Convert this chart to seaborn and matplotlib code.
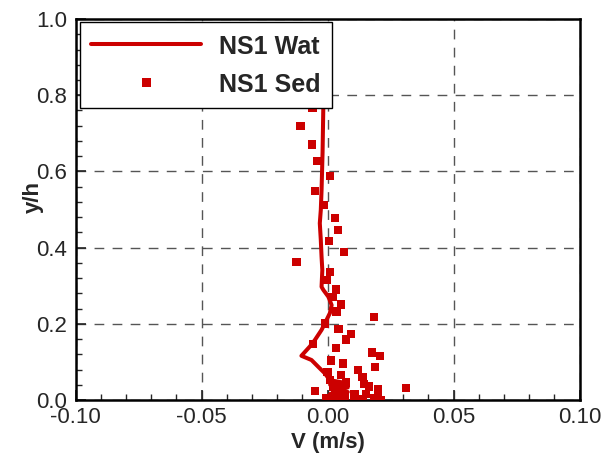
import matplotlib
matplotlib.use("Agg")
import matplotlib.pyplot as plt
import seaborn as sns
import pandas as pd
from matplotlib.ticker import MultipleLocator

# NS1 Wat (line): velocity V (m/s) vs y/h
wat_v = [0.0000, 0.0060, 0.0000, 0.0070, 0.0010, 0.0080, 0.0020, 0.0080, 0.0010, 0.0060,
         0.0009, -0.0011, -0.0037, -0.0064, -0.0104, -0.0071, -0.0051, -0.0024, -0.0011,
         0.0009, 0.0016, 0.0003, -0.0017, -0.0024, -0.0021, -0.0024, -0.0027, -0.0031,
         -0.0027, -0.0024, -0.0020, -0.0017, -0.0015]
wat_y = [0.000, 0.003, 0.006, 0.011, 0.016, 0.021, 0.026, 0.033, 0.040, 0.046,
         0.052, 0.070, 0.087, 0.105, 0.116, 0.140, 0.157, 0.184, 0.201,
         0.228, 0.249, 0.271, 0.289, 0.297, 0.341, 0.376, 0.420, 0.464,
         0.499, 0.551, 0.650, 0.770, 0.820]

# NS1 Sed (points)
sed_v = [-0.0060, -0.0107, -0.0063, -0.0043, 0.0009, -0.0051, -0.0015, 0.0029, 0.0041,
         0.0005, 0.0065, -0.0123, 0.0009, -0.0005, 0.0033, 0.0019, 0.0053, 0.0035,
         0.0185, -0.0011, 0.0043, 0.0093, 0.0073, -0.0059, 0.0033, 0.0177, 0.0209,
         0.0013, 0.0061, 0.0189, -0.0001, 0.0121, 0.0053, 0.0139, 0.0072, 0.0145,
         0.0165, 0.0312, -0.0051, 0.0201, 0.0107, 0.0153, 0.0200, 0.0107, 0.0141,
         0.0185, 0.0213, 0.0009, 0.0023, 0.0056, 0.0029, 0.0069, -0.0004]
sed_y = [0.766, 0.719, 0.671, 0.627, 0.588, 0.549, 0.512, 0.477, 0.446,
         0.417, 0.388, 0.362, 0.336, 0.315, 0.290, 0.270, 0.251, 0.232,
         0.217, 0.201, 0.186, 0.173, 0.159, 0.147, 0.136, 0.125, 0.115,
         0.104, 0.096, 0.086, 0.073, 0.078, 0.066, 0.060, 0.046, 0.042,
         0.035, 0.031, 0.023, 0.028, 0.016, 0.016, 0.016, 0.002, 0.002,
         0.004, 0.000, 0.052, 0.035, 0.026, 0.013, 0.009, 0.004]

x_ticks = [-0.10, -0.05, 0.00, 0.05, 0.10]
x_ticklabels = ["-0.10", "-0.05", "0.00", "0.05", "0.10"]
y_ticks = [0.0, 0.2, 0.4, 0.6, 0.8, 1.0]
y_ticklabels = ["0.0", "0.2", "0.4", "0.6", "0.8", "1.0"]

sns.set_style("white")
plt.rcParams['font.family'] = ['Liberation Sans', 'DejaVu Sans']

RED = "#cc0000"

fig = plt.figure(figsize=(6.05, 4.53), dpi=100)
ax = fig.add_axes([0.125, 0.117, 0.833, 0.841])

df_wat = pd.DataFrame({"V": wat_v, "y": wat_y})
df_sed = pd.DataFrame({"V": sed_v, "y": sed_y})

sns.lineplot(data=df_wat, x="V", y="y", sort=False, estimator=None, color=RED,
             linewidth=2.9, ax=ax, label="NS1 Wat", zorder=3)
sns.scatterplot(data=df_sed, x="V", y="y", marker="s", s=36, color=RED,
                edgecolor="none", linewidth=0, ax=ax, label="NS1 Sed", zorder=4)

ax.set_xlim(-0.10, 0.10)
ax.set_ylim(0.0, 1.0)
ax.set_xticks(x_ticks)
ax.set_xticklabels(x_ticklabels)
ax.set_yticks(y_ticks)
ax.set_yticklabels(y_ticklabels)
ax.xaxis.set_minor_locator(MultipleLocator(0.01))
ax.yaxis.set_minor_locator(MultipleLocator(0.04))

ax.grid(True, which="major", color="#555555", linestyle=(0, (7, 6)), linewidth=1.0, zorder=1)
ax.set_axisbelow(True)

ax.tick_params(axis="x", which="major", pad=5)
ax.tick_params(axis="y", which="major", pad=6)
ax.tick_params(axis="both", which="major", direction="in", length=7, width=1.2,
               labelsize=16, bottom=True, left=True, top=False, right=False)
ax.tick_params(axis="both", which="minor", direction="in", length=4, width=1.0,
               bottom=True, left=True, top=False, right=False)

for s in ax.spines.values():
    s.set_visible(True)
    s.set_color("black")
    s.set_linewidth(1.8)

ax.set_xlabel("V (m/s)", fontsize=16, fontweight="bold", labelpad=3)
ax.set_ylabel("y/h", fontsize=16, fontweight="bold")
ax.yaxis.set_label_coords(-0.064, 0.533)

leg = ax.legend(loc="upper left", bbox_to_anchor=(0.009, 0.992),
                prop={"weight": "bold", "size": 18}, frameon=True, fancybox=False,
                handlelength=4.4, handleheight=1.12, scatterpoints=1, borderpad=0.45,
                labelspacing=0.48, handletextpad=0.72, borderaxespad=0.0)
leg.get_frame().set_edgecolor("black")
leg.get_frame().set_linewidth(1.0)
leg.get_frame().set_alpha(1.0)
leg.set_zorder(10)

fig.savefig("out.png", dpi=100)
